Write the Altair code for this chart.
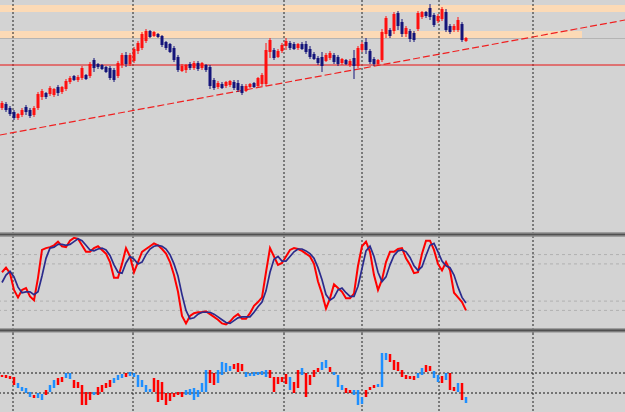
import altair as alt
import pandas as pd

# ---------------- data (arbitrary price units) ----------------
OPEN = [132,136,132,128,122,125,133,130,125,132,
        143,147,146,145,153,148,151,158,164,160,
        162,165,164,180,176,175,173,172,170,164,
        175,185,176,179,189,192,199,209,204,206,
        204,198,196,192,183,169,170,176,172,177,
        172,175,173,160,153,156,154,155,158,157,
        154,149,153,157,154,156,156,188,190,183,
        189,194,197,196,192,196,196,191,186,182,
        183,179,182,185,183,177,180,175,182,174,
        190,198,189,181,176,180,206,210,209,227,
        218,206,209,207,211,223,228,232,225,219,
        221,228,214,210,210,216,199]
CLOSE = [137,130,126,122,126,130,128,124,132,146,
         149,143,152,151,147,153,159,162,160,163,
         172,161,176,172,173,171,168,162,160,177,
         185,176,185,191,197,206,209,203,208,203,
         195,192,188,180,170,174,175,172,177,171,
         177,170,154,152,157,152,158,159,152,150,
         147,154,156,153,162,165,190,200,182,189,
         195,199,192,191,196,191,188,183,181,177,
         174,185,187,178,176,181,176,179,174,192,
         196,190,178,176,180,208,222,204,226,214,
         206,212,201,200,227,228,224,223,215,224,
         231,210,208,214,220,200,202]
HIGH = [139,138,134,130,127,132,135,132,134,148,
        151,148,154,152,155,154,161,164,165,165,
        174,166,178,182,177,176,174,174,172,179,
        187,188,187,193,199,208,211,210,209,207,
        205,199,197,194,185,176,176,178,179,179,
        178,176,175,162,159,158,159,160,160,160,
        156,156,157,158,163,167,197,202,192,191,
        197,202,199,198,197,198,199,194,188,184,
        188,187,189,187,185,182,181,181,190,194,
        198,202,191,183,181,211,224,212,228,229,
        221,214,211,209,229,229,229,236,227,226,
        233,231,216,216,223,218,203]
LOW = [130,128,124,120,120,123,125,122,123,130,
       140,141,144,143,144,146,149,156,159,158,
       160,160,162,168,171,170,167,160,158,162,
       172,173,174,177,186,190,197,202,203,202,
       193,190,187,178,168,168,167,170,170,169,
       170,168,151,150,151,151,152,153,150,148,
       145,148,152,152,153,154,154,182,180,182,
       187,190,190,190,190,190,186,181,180,175,
       168,178,180,176,174,175,175,173,161,172,
       188,186,176,174,174,178,202,202,206,210,
       203,203,198,198,209,221,222,220,213,217,
       219,208,206,208,208,198,198]

# horizontal zones and levels on the price panel
ZONE_LO = [228, 202]
ZONE_HI = [235, 209]
ZONE_END = [155.75, 145]          # bar index where each zone ends
ZONE_EDGE = [201.5]               # thin grey line under the lower zone
RED_LEVEL = [175]
TREND_K = [-0.5, 155.75]
TREND_P = [105, 220]

# vertical (time) grid, in bar-index units
GRID_K = [2.75, 32.75, 70.5, 90, 109.25, 132.75]

# stochastic
STOCH_K = [61,66,60,42,34,42,44,35,31,55,
           85,87,88,90,94,89,88,95,98,97,
           90,83,83,87,89,85,81,72,55,55,
           70,87,78,61,72,83,86,89,92,90,
           86,81,72,58,40,14,6,14,17,18,
           18,19,16,13,10,6,5,8,13,16,
           11,11,17,25,29,34,61,87,78,69,
           71,78,85,87,86,84,81,78,70,51,
           38,22,33,48,44,40,33,33,38,68,
           89,94,83,58,42,53,72,83,83,86,
           87,76,69,60,61,81,95,95,85,70,
           63,72,63,39,34,29,20]
STOCH_D = [50,58,62,56,45,39,40,40,37,40,
           57,76,87,88,91,91,90,91,94,97,
           95,90,85,84,86,87,85,79,69,61,
           60,71,78,75,70,72,80,86,89,90,
           89,86,80,70,57,37,20,11,12,16,
           18,18,18,16,13,10,7,6,9,12,
           13,13,13,18,24,29,41,61,75,78,
           73,73,78,83,86,86,84,81,76,66,
           53,37,31,34,42,44,39,35,35,46,
           65,84,89,78,61,51,56,69,79,84,
           85,83,77,68,63,67,79,90,92,83,
           73,68,66,58,45,34,28]
STOCH_LEVELS = [80, 70, 30, 20]

# lower oscillator (bar ranges)
OSC_HI = [-10,-10,-15,-20,-50,-70,-75,-95,-110,-100,
          -105,-85,-60,-35,-25,-20,0,0,-35,-45,
          -60,-95,-95,-95,-70,-60,-50,-35,-25,-10,
          -5,0,5,0,-10,-35,-60,-80,-25,-35,
          -45,-100,-100,-100,-95,-95,-85,-80,-75,-85,
          -50,15,15,0,15,55,50,35,45,50,
          45,5,0,5,5,10,15,15,-20,-20,
          -20,-5,-20,-45,15,25,0,-10,15,25,
          55,65,30,5,-10,-60,-75,-85,-85,-85,
          -120,-85,-70,-60,-55,100,100,95,65,55,
          15,-10,-15,-15,0,25,40,35,10,-10,
          -15,0,0,-70,-50,-50,-120]
OSC_LO = [-20,-25,-30,-60,-75,-90,-100,-120,-125,-125,
          -135,-110,-95,-75,-60,-45,-25,-30,-75,-75,
          -160,-160,-135,-110,-110,-95,-75,-70,-50,-35,
          -25,-20,-15,-20,-70,-70,-95,-95,-95,-145,
          -135,-160,-140,-120,-110,-120,-110,-110,-135,-120,
          -95,-95,-50,-60,-50,-10,5,10,20,5,
          10,-20,-15,-15,-10,-10,-20,-25,-95,-55,
          -45,-55,-85,-100,-75,-10,-120,-60,-20,5,
          15,25,5,-10,-70,-85,-100,-100,-110,-160,
          -155,-120,-85,-75,-70,-70,65,55,15,10,
          -20,-30,-30,-35,-25,-10,5,10,-25,-45,
          -50,-35,-85,-90,-95,-135,-150]
OSC_DIR = list("dddduuuudu" "uduudduudd" "dddudddduu" "uduuuuuudd"
               "dddddduuuu" "uudduuuudd" "duuuuuuddd" "dduddudddd"
               "uuduuudduu" "uddduuuddd" "dddduudduu" "duddudu")
OSC_LEVELS = [0, -100]

# ---------------- styling ----------------
BG = "#D3D3D3"
BULL = "#FF1010"
BEAR = "#14147A"
W = 625
N = len(OPEN)

xs = alt.Scale(domain=[-0.5, 155.75], nice=False, zero=False, padding=0)
def X(f="k"):
    return alt.X(f"{f}:Q", scale=xs, axis=None)

# ---------------- price panel ----------------
ys_main = alt.Scale(domain=[8, 240], nice=False, zero=False, padding=0)
candles = pd.DataFrame({"k": list(range(N)), "open": OPEN, "close": CLOSE,
                        "high": HIGH, "low": LOW})
zones = pd.DataFrame({"lo": ZONE_LO, "hi": ZONE_HI, "k0": [-0.5, -0.5], "k1": ZONE_END})
grid = pd.DataFrame({"k": GRID_K})
trend = pd.DataFrame({"k": TREND_K, "p": TREND_P})

ccolor = alt.condition("datum.close >= datum.open", alt.value(BULL), alt.value(BEAR))

zone_l = alt.Chart(zones).mark_rect(color="#FCDAB6", clip=True).encode(
    x=X("k0"), x2="k1:Q", y=alt.Y("lo:Q", scale=ys_main, axis=None), y2="hi:Q")
edge_l = alt.Chart(pd.DataFrame({"p": ZONE_EDGE})).mark_rule(color="#B4B4B4", strokeWidth=1, clip=True).encode(
    y=alt.Y("p:Q", scale=ys_main, axis=None))
grid_main = alt.Chart(grid).mark_rule(color="#202020", strokeDash=[2, 2], strokeWidth=1, clip=True).encode(x=X())
red_l = alt.Chart(pd.DataFrame({"p": RED_LEVEL})).mark_rule(color="#E81010", strokeWidth=1, clip=True).encode(
    y=alt.Y("p:Q", scale=ys_main, axis=None))
trend_l = alt.Chart(trend).mark_line(color="#F02020", strokeWidth=1.2, strokeDash=[7, 3], clip=True).encode(
    x=X(), y=alt.Y("p:Q", scale=ys_main, axis=None))
wick = alt.Chart(candles).mark_rule(strokeWidth=1, clip=True).encode(
    x=X(), y=alt.Y("low:Q", scale=ys_main, axis=None), y2="high:Q", color=ccolor)
body = alt.Chart(candles).mark_rule(strokeWidth=3, clip=True).encode(
    x=X(), y=alt.Y("open:Q", scale=ys_main, axis=None), y2="close:Q", color=ccolor)

main = alt.layer(zone_l, edge_l, grid_main, red_l, trend_l, wick, body).properties(width=W, height=232)

# ---------------- stochastic panel ----------------
ys_st = alt.Scale(domain=[-4.3, 104.3], nice=False, zero=False, padding=0)
stoch = pd.DataFrame({"k": list(range(N)), "K": STOCH_K, "D": STOCH_D})
one = pd.DataFrame({"a": [0]})

lev_st = alt.Chart(pd.DataFrame({"v": STOCH_LEVELS})).mark_rule(
    color="#B0B0B0", strokeDash=[3, 3], strokeWidth=1, clip=True).encode(y=alt.Y("v:Q", scale=ys_st, axis=None))
grid_st = alt.Chart(grid).mark_rule(color="#202020", strokeDash=[2, 2], strokeWidth=1, clip=True).encode(x=X())
k_line = alt.Chart(stoch).mark_line(color="#FF0000", strokeWidth=2, clip=True).encode(
    x=X(), y=alt.Y("K:Q", scale=ys_st, axis=None))
d_line = alt.Chart(stoch).mark_line(color="#2B2B8C", strokeWidth=1.7, clip=True).encode(
    x=X(), y=alt.Y("D:Q", scale=ys_st, axis=None))

def sep(y0, y1):
    outer = alt.Chart(one).mark_rect(color="#8C8C8C", clip=True).encode(
        x=alt.value(0), x2=alt.value(W), y=alt.value(y0), y2=alt.value(y1))
    inner = alt.Chart(one).mark_rect(color="#505050", clip=True).encode(
        x=alt.value(0), x2=alt.value(W), y=alt.value((y0 + y1) / 2 - 0.8), y2=alt.value((y0 + y1) / 2 + 0.8))
    return [outer, inner]

st_panel = alt.layer(lev_st, grid_st, k_line, d_line, *sep(0.3, 4.7), *sep(96.2, 100.6)).properties(
    width=W, height=101)

# ---------------- lower oscillator ----------------
ys_bt = alt.Scale(domain=[-195, 200], nice=False, zero=False, padding=0)
osc = pd.DataFrame({"k": list(range(N)), "hi": OSC_HI, "lo": OSC_LO, "dir": OSC_DIR})
lev_bt = alt.Chart(pd.DataFrame({"v": OSC_LEVELS})).mark_rule(
    color="#151515", strokeDash=[2, 2], strokeWidth=1, clip=True).encode(y=alt.Y("v:Q", scale=ys_bt, axis=None))
grid_bt = alt.Chart(grid).mark_rule(color="#202020", strokeDash=[2, 2], strokeWidth=1, clip=True).encode(x=X())
obars = alt.Chart(osc).mark_rule(strokeWidth=2.5, clip=True).encode(
    x=X(), y=alt.Y("lo:Q", scale=ys_bt, axis=None), y2="hi:Q",
    color=alt.condition("datum.dir == 'u'", alt.value("#1E8FFF"), alt.value("#FF0000")))
bt_panel = alt.layer(grid_bt, lev_bt, obars).properties(width=W, height=79)

chart = alt.vconcat(main, st_panel, bt_panel, spacing=0).properties(
    padding=0, background=BG).configure_view(stroke=None)

chart.save("out.html", embed_options={"renderer": "svg", "actions": False})
